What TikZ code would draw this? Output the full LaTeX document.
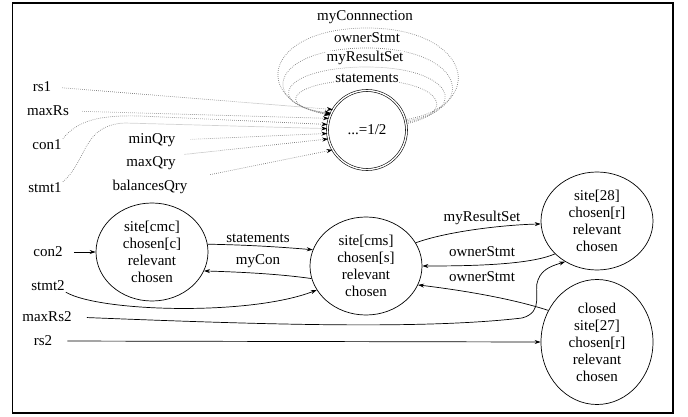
\documentclass[tikz,border=0pt]{standalone}
\usepackage{fontspec}
\setmainfont{Liberation Serif}
\usetikzlibrary{shapes.geometric,arrows.meta}
\begin{document}
\begin{tikzpicture}[x=1pt,y=-1pt,
  txt/.style={font=\fontsize{15}{17}\selectfont, inner sep=1pt},
  wtxt/.style={txt, fill=white, inner sep=0.5pt},
  st/.style={draw, ellipse, line width=0.7pt, align=center, inner sep=0pt,
    minimum width=112pt, minimum height=98pt, font=\fontsize{15}{17}\selectfont},
  arr/.style={-{Stealth[length=6pt,width=4pt]}, line width=0.7pt},
  dotl/.style={-{Stealth[length=6pt,width=4pt,black]}, line width=0.7pt, draw=gray,
    dash pattern=on 0.7pt off 1.3pt},
]
\useasboundingbox (0,0) rectangle (688,417);
\draw[line width=1.6pt] (12.5,3) rectangle (673,413);

% main double circle
\node[txt, draw, circle, double, double distance=1.4pt, line width=0.6pt,
  minimum size=79pt, inner sep=0pt] (big) at (367,130) {...=1/2};

% self loops
\draw[dotl] (big.15) .. controls (490,105) and (470,28) .. (367,28)
  .. controls (264,28) and (250,100) .. (big.158);
\draw[dotl] (big.13) .. controls (482,108) and (462,48) .. (367,48)
  .. controls (272,48) and (256,102) .. (big.157);
\draw[dotl] (big.11) .. controls (472,110) and (452,67) .. (367,67)
  .. controls (282,67) and (262,104) .. (big.156);
\draw[dotl] (big.9) .. controls (460,112) and (440,80) .. (367,80)
  .. controls (292,80) and (272,106) .. (big.155);

\node[wtxt] (lconn) at (365,17) {myConnnection};
\node[wtxt] (lown) at (367,38) {ownerStmt};
\node[wtxt] (lres) at (365,58) {myResultSet};
\node[wtxt] (lstat) at (367,78) {statements};

% left labels
\node[txt] (rs1) at (42,87) {rs1};
\node[txt] (maxRs) at (48,111) {maxRs};
\node[txt] (con1) at (47,145) {con1};
\node[txt] (stmt1) at (45,188) {stmt1};
\node[txt] (minQry) at (152,140) {minQry};
\node[txt] (maxQry) at (151,163) {maxQry};
\node[txt] (balQry) at (150,187) {balancesQry};

\draw[dotl, shorten <=10pt] (rs1.east) -- (big.149);
\draw[dotl, shorten <=12pt] (maxRs.east) -- (big.163);
\draw[dotl] (con1.north east) .. controls (78,120) and (100,115) .. (140,116) -- (big.172);
\draw[dotl] (stmt1.north east) .. controls (88,160) and (82,125) .. (125,123) -- (big.178);
\draw[dotl, shorten <=14pt] (minQry.east) -- (big.185);
\draw[dotl, shorten <=8pt] (maxQry.north east) -- (big.193);
\draw[dotl, shorten <=22pt] (balQry.north east) -- (big.210);

% lower states
\node[st] (cmc) at (152,252) {site[cmc]\\chosen[c]\\relevant\\chosen};
\node[st] (cms) at (366,266) {site[cms]\\chosen[s]\\relevant\\chosen};
\node[st] (n28) at (597,221) {site[28]\\chosen[r]\\relevant\\chosen};
\node[st, minimum height=125pt] (n27) at (597,342) {closed\\site[27]\\chosen[r]\\relevant\\chosen};

\node[txt] (con2) at (48,252) {con2};
\node[txt] (stmt2) at (48,286) {stmt2};
\node[txt] (maxRs2) at (47,317) {maxRs2};
\node[txt] (rs2) at (43,341) {rs2};

\draw[arr, shorten <=10pt] (con2.east) -- (cmc.west);
\draw[arr] (stmt2.south east) .. controls (100,312) and (250,316) .. (cms.206);
\draw[arr, shorten <=14pt] (maxRs2.east) .. controls (250,324) and (420,330) .. (522,318)
  .. controls (545,312) and (533,290) .. (538,280)
  .. controls (542,268) and (555,265) .. (n28.232);
\draw[arr, shorten <=14pt] (rs2.east) -- (n27.west);

\draw[arr] (cmc.8) .. controls (250,245) and (280,247) .. (cms.163);
\draw[arr] (cms.193) .. controls (280,274) and (240,272) .. (cmc.-20);
\node[txt] (lstat2) at (258,238) {statements};
\node[txt] (lmycon) at (258,261) {myCon};

\draw[arr] (cms.25) .. controls (445,232) and (500,225) .. (n28.183);
\draw[arr] (n28.218) .. controls (530,265) and (470,266) .. (cms.east);
\draw[arr] (n27.147) .. controls (510,298) and (460,290) .. (cms.-20);
\node[txt] (lres2) at (482,218) {myResultSet};
\node[txt] (lown2) at (482,252) {ownerStmt};
\node[txt] (lown3) at (482,277) {ownerStmt};
\end{tikzpicture}
\end{document}
